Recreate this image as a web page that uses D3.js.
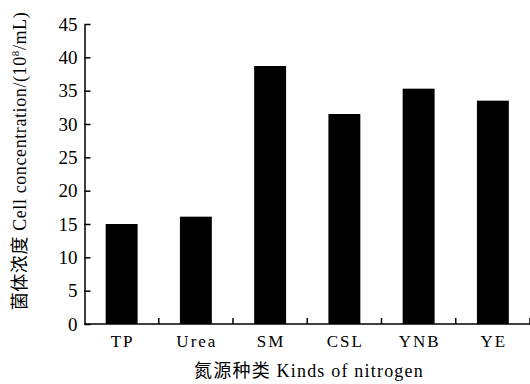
<!DOCTYPE html>
<html>
<head>
<meta charset="utf-8">
<script src="https://cdn.jsdelivr.net/npm/d3@7"></script>
<style>
  body { margin: 0; background: #fff; }
  text { font-family: "Liberation Serif", "Noto Sans CJK SC", serif; fill: #000; }
</style>
</head>
<body>
<script>
// Data
var categories = ["TP", "Urea", "SM", "CSL", "YNB", "YE"];
var cellValues = [15.0, 16.1, 38.7, 31.5, 35.3, 33.5];
var yTicks = [0, 5, 10, 15, 20, 25, 30, 35, 40, 45];

var svgWidth = 530;
var svgHeight = 384;

var chartMargin = { top: 24, right: 0, bottom: 60, left: 84.5 };
var chartWidth = svgWidth - chartMargin.left - chartMargin.right;
var chartHeight = svgHeight - chartMargin.top - chartMargin.bottom;

var svg = d3.select("body")
  .append("svg")
  .attr("width", svgWidth)
  .attr("height", svgHeight);

var chartGroup = svg.append("g")
  .attr("transform", `translate(${chartMargin.left}, ${chartMargin.top})`);

var xBand = d3.scaleBand()
  .domain(categories)
  .range([0, chartWidth])
  .paddingInner(0.57)
  .paddingOuter(0.285);

var yLinear = d3.scaleLinear()
  .domain([0, 45])
  .range([chartHeight, 0]);

// bars
chartGroup.selectAll(".bar")
  .data(categories)
  .enter()
  .append("rect")
  .attr("class", "bar")
  .attr("x", d => xBand(d))
  .attr("y", (d, i) => yLinear(cellValues[i]))
  .attr("width", xBand.bandwidth())
  .attr("height", (d, i) => chartHeight - yLinear(cellValues[i]))
  .attr("fill", "#000");

// y axis, ticks pointing inward
var leftAxis = d3.axisRight(yLinear).tickValues(yTicks).tickSize(6).tickSizeOuter(0);
var yAxisG = chartGroup.append("g").call(leftAxis);
yAxisG.select(".domain").attr("stroke-width", 1.5);
yAxisG.selectAll(".tick line").attr("stroke-width", 1.5);
yAxisG.selectAll(".tick text")
  .attr("x", -7)
  .attr("text-anchor", "end")
  .attr("font-size", 19);

// x axis: ticks at band boundaries, pointing up
var boundaries = categories.map(d => xBand(d) - xBand.step() * xBand.paddingInner() / 2).slice(1);
boundaries.push(chartWidth);
var xAxisG = chartGroup.append("g").attr("transform", `translate(0, ${chartHeight})`);
xAxisG.append("line")
  .attr("x1", 0).attr("x2", chartWidth)
  .attr("stroke", "#000").attr("stroke-width", 1.5);
xAxisG.selectAll(".xtick")
  .data(boundaries)
  .enter()
  .append("line")
  .attr("x1", d => d).attr("x2", d => d)
  .attr("y1", 0).attr("y2", -6)
  .attr("stroke", "#000").attr("stroke-width", 1.5);
xAxisG.selectAll(".xlabel")
  .data(categories)
  .enter()
  .append("text")
  .attr("x", d => xBand(d) + xBand.bandwidth() / 2 + 1)
  .attr("y", 23)
  .attr("text-anchor", "middle")
  .attr("font-size", 17)
  .attr("letter-spacing", 2)
  .text(d => d);

// axis titles
svg.append("text")
  .attr("x", 309)
  .attr("y", 377)
  .attr("text-anchor", "middle")
  .attr("font-size", 18)
  .attr("letter-spacing", 1.2)
  .text("氮源种类  Kinds of nitrogen");

var yTitle = svg.append("text")
  .attr("transform", `translate(26, 161) rotate(-90)`)
  .attr("text-anchor", "middle")
  .attr("font-size", 18)
  .attr("letter-spacing", 0.6);
yTitle.append("tspan").text("菌体浓度  Cell concentration/(10");
yTitle.append("tspan").attr("font-size", 11).attr("dy", -7).text("8");
yTitle.append("tspan").attr("dy", 7).text("/mL)");
</script>
</body>
</html>
